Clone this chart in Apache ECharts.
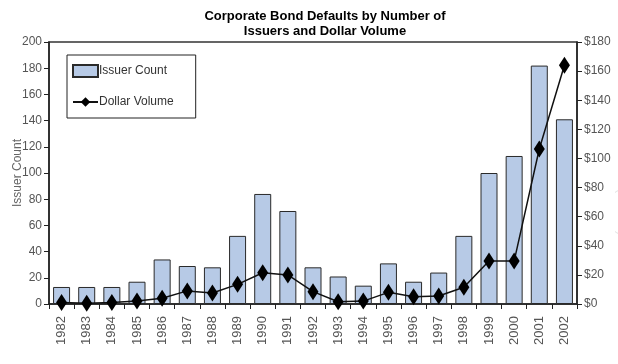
<!DOCTYPE html>
<html>
<head>
<meta charset="utf-8">
<script src="https://cdn.jsdelivr.net/npm/echarts@6/dist/echarts.min.js"></script>
<style>html,body{margin:0;padding:0;background:#fff}#c{width:618px;height:364px}</style>
</head>
<body>
<div id="c"></div>
<script>
var years = ['1982','1983','1984','1985','1986','1987','1988','1989','1990','1991','1992','1993','1994','1995','1996','1997','1998','1999','2000','2001','2002'];
var issuerCount = [13,13,13,17,34,29,28,52,84,71,28,21,14,31,17,24,52,100,113,182,141];
var dollarVolume = [1,0.5,1,2,4,9,7.5,13.5,21.5,20,8.5,1.5,2,8,5,5.5,11.5,29.5,29.5,106.5,164];
var leftTicks = {min:0, max:200, interval:20};
var rightTicks = {min:0, max:180, interval:20};

var narrow = '"Liberation Sans Narrow","Liberation Sans",Arial,sans-serif';
var chart = echarts.init(document.getElementById('c'), null, {renderer:'canvas'});
chart.setOption({
  animation:false,
  title:{
    text:'Corporate Bond Defaults by Number of\nIssuers and Dollar Volume',
    left:320, textAlign:'center', top:4,
    textStyle:{fontFamily:'"Liberation Sans",Arial,sans-serif', fontWeight:'bold', fontSize:13, lineHeight:15, color:'#000'}
  },
  legend:{
    orient:'vertical', left:67, top:55,
    padding:[9,22,10,5],
    itemGap:18,
    itemWidth:25, itemHeight:12,
    borderColor:'#222', borderWidth:1,
    textStyle:{fontFamily:narrow, fontSize:12, color:'#333', padding:[0,0,0,-4]},
    data:[
      {name:'Issuer Count', icon:'rect'},
      {name:'Dollar Volume'}
    ]
  },
  grid:{left:49, right:41, top:42, bottom:60, outerBoundsMode:'none', containLabel:false,
        show:true, borderColor:'#333', borderWidth:1.5, backgroundColor:'transparent'},
  xAxis:[{
    type:'category', data:years, position:'bottom',
    axisLine:{lineStyle:{color:'#222', width:1.5}},
    axisTick:{show:true, alignWithLabel:false, length:5, lineStyle:{color:'#222'}},
    axisLabel:{rotate:90, fontFamily:narrow, fontSize:13, color:'#555', margin:12}
  }],
  yAxis:[{
    type:'value', min:leftTicks.min, max:leftTicks.max, interval:leftTicks.interval,
    name:'Issuer Count', nameLocation:'middle', nameGap:25, nameRotate:90, nameMoveOverlap:false,
    nameTextStyle:{fontFamily:'"Liberation Sans",Arial,sans-serif', fontSize:12, color:'#666'},
    axisLine:{show:true, lineStyle:{color:'#222', width:1.5}},
    axisTick:{show:true, length:5, lineStyle:{color:'#222'}},
    axisLabel:{fontFamily:narrow, fontSize:12, color:'#555', margin:7},
    splitLine:{show:false}
  },{
    type:'value', min:rightTicks.min, max:rightTicks.max, interval:rightTicks.interval,
    position:'right',
    name:'Dollar Volume (Billions)', nameLocation:'middle', nameGap:38, nameRotate:-90, nameMoveOverlap:false,
    nameTextStyle:{fontFamily:'"Liberation Sans",Arial,sans-serif', fontSize:12, color:'#e4e4e4'},
    axisLine:{show:true, lineStyle:{color:'#222', width:1.5}},
    axisTick:{show:true, length:5, lineStyle:{color:'#222'}},
    axisLabel:{fontFamily:narrow, fontSize:12, color:'#555', margin:7, formatter:'${value}'},
    splitLine:{show:false}
  }],
  series:[{
    name:'Issuer Count', type:'bar', data:issuerCount, yAxisIndex:0,
    barWidth:17,
    itemStyle:{color:'#b7cae6', borderColor:'#2a2a2a', borderWidth:1}
  },{
    name:'Dollar Volume', type:'line', data:dollarVolume, yAxisIndex:1,
    symbol:'diamond', symbolSize:[11,17],
    lineStyle:{color:'#111', width:1.5},
    itemStyle:{color:'#000'},
    z:5
  }]
});
</script>
</body>
</html>
